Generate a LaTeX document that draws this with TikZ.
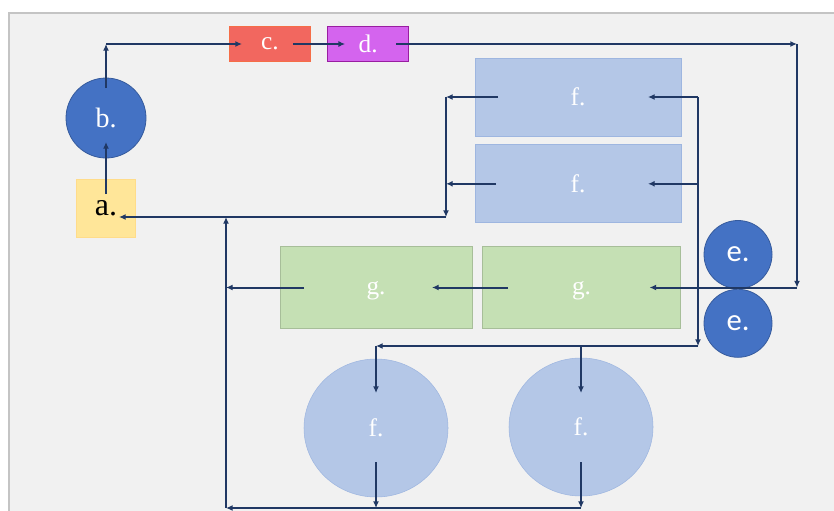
\documentclass[tikz,border=0pt]{standalone}
\usepackage{fontspec}
\setmainfont{Liberation Serif}
\newfontfamily\carlito{Carlito}
\usetikzlibrary{positioning, calc, arrows.meta, shapes.geometric}
\definecolor{sfondo}{HTML}{F1F1F1}
\definecolor{bordo}{HTML}{C4C4C4}
\definecolor{navy}{HTML}{203864}
\definecolor{giallo}{HTML}{FFE699}
\definecolor{blu}{HTML}{4472C4}
\definecolor{rosso}{HTML}{F2675F}
\definecolor{viola}{HTML}{D464EE}
\definecolor{azzurro}{HTML}{B4C7E7}
\definecolor{verde}{HTML}{C5E0B4}

\begin{document}
\begin{tikzpicture}[x=0.75pt,y=-0.75pt,
    freccia/.style={navy, line width=1.5pt, -{Latex[length=5pt,width=4.5pt]}},
    blocco/.style={rectangle, inner sep=0pt, text=white, line width=0.6pt},
    tondo/.style={circle, inner sep=0pt, text=white, line width=0.6pt},
    node distance=6pt]
        \useasboundingbox (0,0) rectangle (834,510);
        %riquadro di sfondo
        \fill[sfondo] (9,13) rectangle (850,530);
        \draw[bordo, line width=1pt] (9,530)-- (9,13)-- (850,13);
        %blocchi a sinistra
        \node[blocco, fill=giallo, draw=giallo!90!orange, text=black, minimum width=44pt, minimum height=43.5pt, font=\fontsize{24}{28}\selectfont] (a) at (106,208) {a.};
        \node[tondo, fill=blu, draw=blu!80!black, minimum size=60pt, font=\fontsize{21}{25}\selectfont] (b) at (106,118) {b.};
        \node[blocco, fill=rosso, draw=rosso!75!orange, minimum width=61pt, minimum height=26pt, font=\fontsize{19}{22}\selectfont] (c) at (270,44) {c.};
        \node[blocco, fill=viola, draw=violet!70!viola, minimum width=61pt, minimum height=26pt, font=\fontsize{19}{22}\selectfont, right=12pt of c] (d) {d.};
        %blocchi f
        \node[blocco, fill=azzurro, draw=azzurro!80!blu, minimum width=154.5pt, minimum height=58.5pt, font=\fontsize{19}{23}\selectfont] (f1) at (578,97) {f.};
        \node[blocco, fill=azzurro, draw=azzurro!80!blu, minimum width=154.5pt, minimum height=58.5pt, font=\fontsize{19}{23}\selectfont, below=of f1] (f2) {f.};
        %blocchi g
        \node[blocco, fill=verde, draw=verde!85!black, minimum width=149pt, minimum height=61.5pt, text depth=0pt, font=\fontsize{19}{23}\selectfont] (gR) at (581.5,287.5) {g.};
        \node[blocco, fill=verde, draw=verde!85!black, minimum width=144pt, minimum height=62pt, text depth=0pt, font=\fontsize{19}{23}\selectfont] (gL) at (376,287.5) {g.};
        %rulli e
        \node[tondo, fill=blu, draw=blu!80!black, minimum size=51pt, font=\carlito\fontsize{23}{27}\selectfont] (e1) at (738,254.5) {e.};
        \node[tondo, fill=blu, draw=blu!80!black, minimum size=51pt, font=\carlito\fontsize{23}{27}\selectfont, below=0pt of e1] (e2) {e.};
        %serbatoi f
        \node[ellipse, inner sep=0pt, fill=azzurro, draw=azzurro!80!blu, text=white, minimum width=108pt, minimum height=103.5pt, font=\fontsize{19}{23}\selectfont] (fc1) at (376,428) {f.};
        \node[ellipse, inner sep=0pt, fill=azzurro, draw=azzurro!80!blu, text=white, minimum width=108pt, minimum height=103.5pt, font=\fontsize{19}{23}\selectfont] (fc2) at (581,427) {f.};
        %nodi di raccordo
        \coordinate (est) at (797,44);
        \coordinate (nodoA) at (446,217);
        \coordinate (nodoB) at (226,508);
        \coordinate (nodoC) at (698,346);
        %frecce in alto
        \draw[freccia] ($(a)+(0,-14)$)-- ($(b)+(0,24)$);
        \draw[freccia] ($(b)+(0,-30)$)-- (b |- c);
        \draw[freccia] (b |- c)-- ($(c)+(-28,0)$);
        \draw[freccia] ($(c)+(23,0)$)-- ($(d)+(-23,0)$);
        \draw[freccia] ($(d)+(28,0)$)-- (est);
        \draw[freccia] (est)-- (est |- gR);
        \draw[freccia] (est |- gR)-- ($(gR)+(68,0)$);
        %raccolta a sinistra dei blocchi f
        \draw[freccia] ($(f1)+(-80,0)$)-- (nodoA |- f1);
        \draw[freccia] ($(f2)+(-82,0)$)-- (nodoA |- f2);
        \draw[freccia] (nodoA |- f1)-- (nodoA);
        \draw[freccia] (nodoA)-- ($(a)+(13,9)$);
        %alimentazione a destra
        \draw[freccia] (nodoC |- f1)-- ($(f1)+(70,0)$);
        \draw[freccia] (nodoC |- f2)-- ($(f2)+(70,0)$);
        \draw[freccia] (nodoC |- f1)-- (nodoC);
        \draw[freccia] (nodoC)-- (fc1 |- nodoC);
        \draw[freccia] (fc1 |- nodoC)-- ($(fc1)+(0,-35)$);
        \draw[freccia] (fc2 |- nodoC)-- ($(fc2)+(0,-34)$);
        %linea g
        \draw[freccia] ($(gR)+(-73.5,0)$)-- ($(gL)+(56,0)$);
        \draw[freccia] ($(gL)+(-72,0)$)-- (nodoB |- gL);
        %ritorno in basso
        \draw[freccia] ($(fc1)+(0,34)$)-- (fc1 |- nodoB);
        \draw[freccia] ($(fc2)+(0,35)$)-- (fc2 |- nodoB);
        \draw[freccia] (fc2 |- nodoB)-- (nodoB);
        \draw[freccia] (nodoB)-- (nodoB |- nodoA);
\end{tikzpicture}
\end{document}
